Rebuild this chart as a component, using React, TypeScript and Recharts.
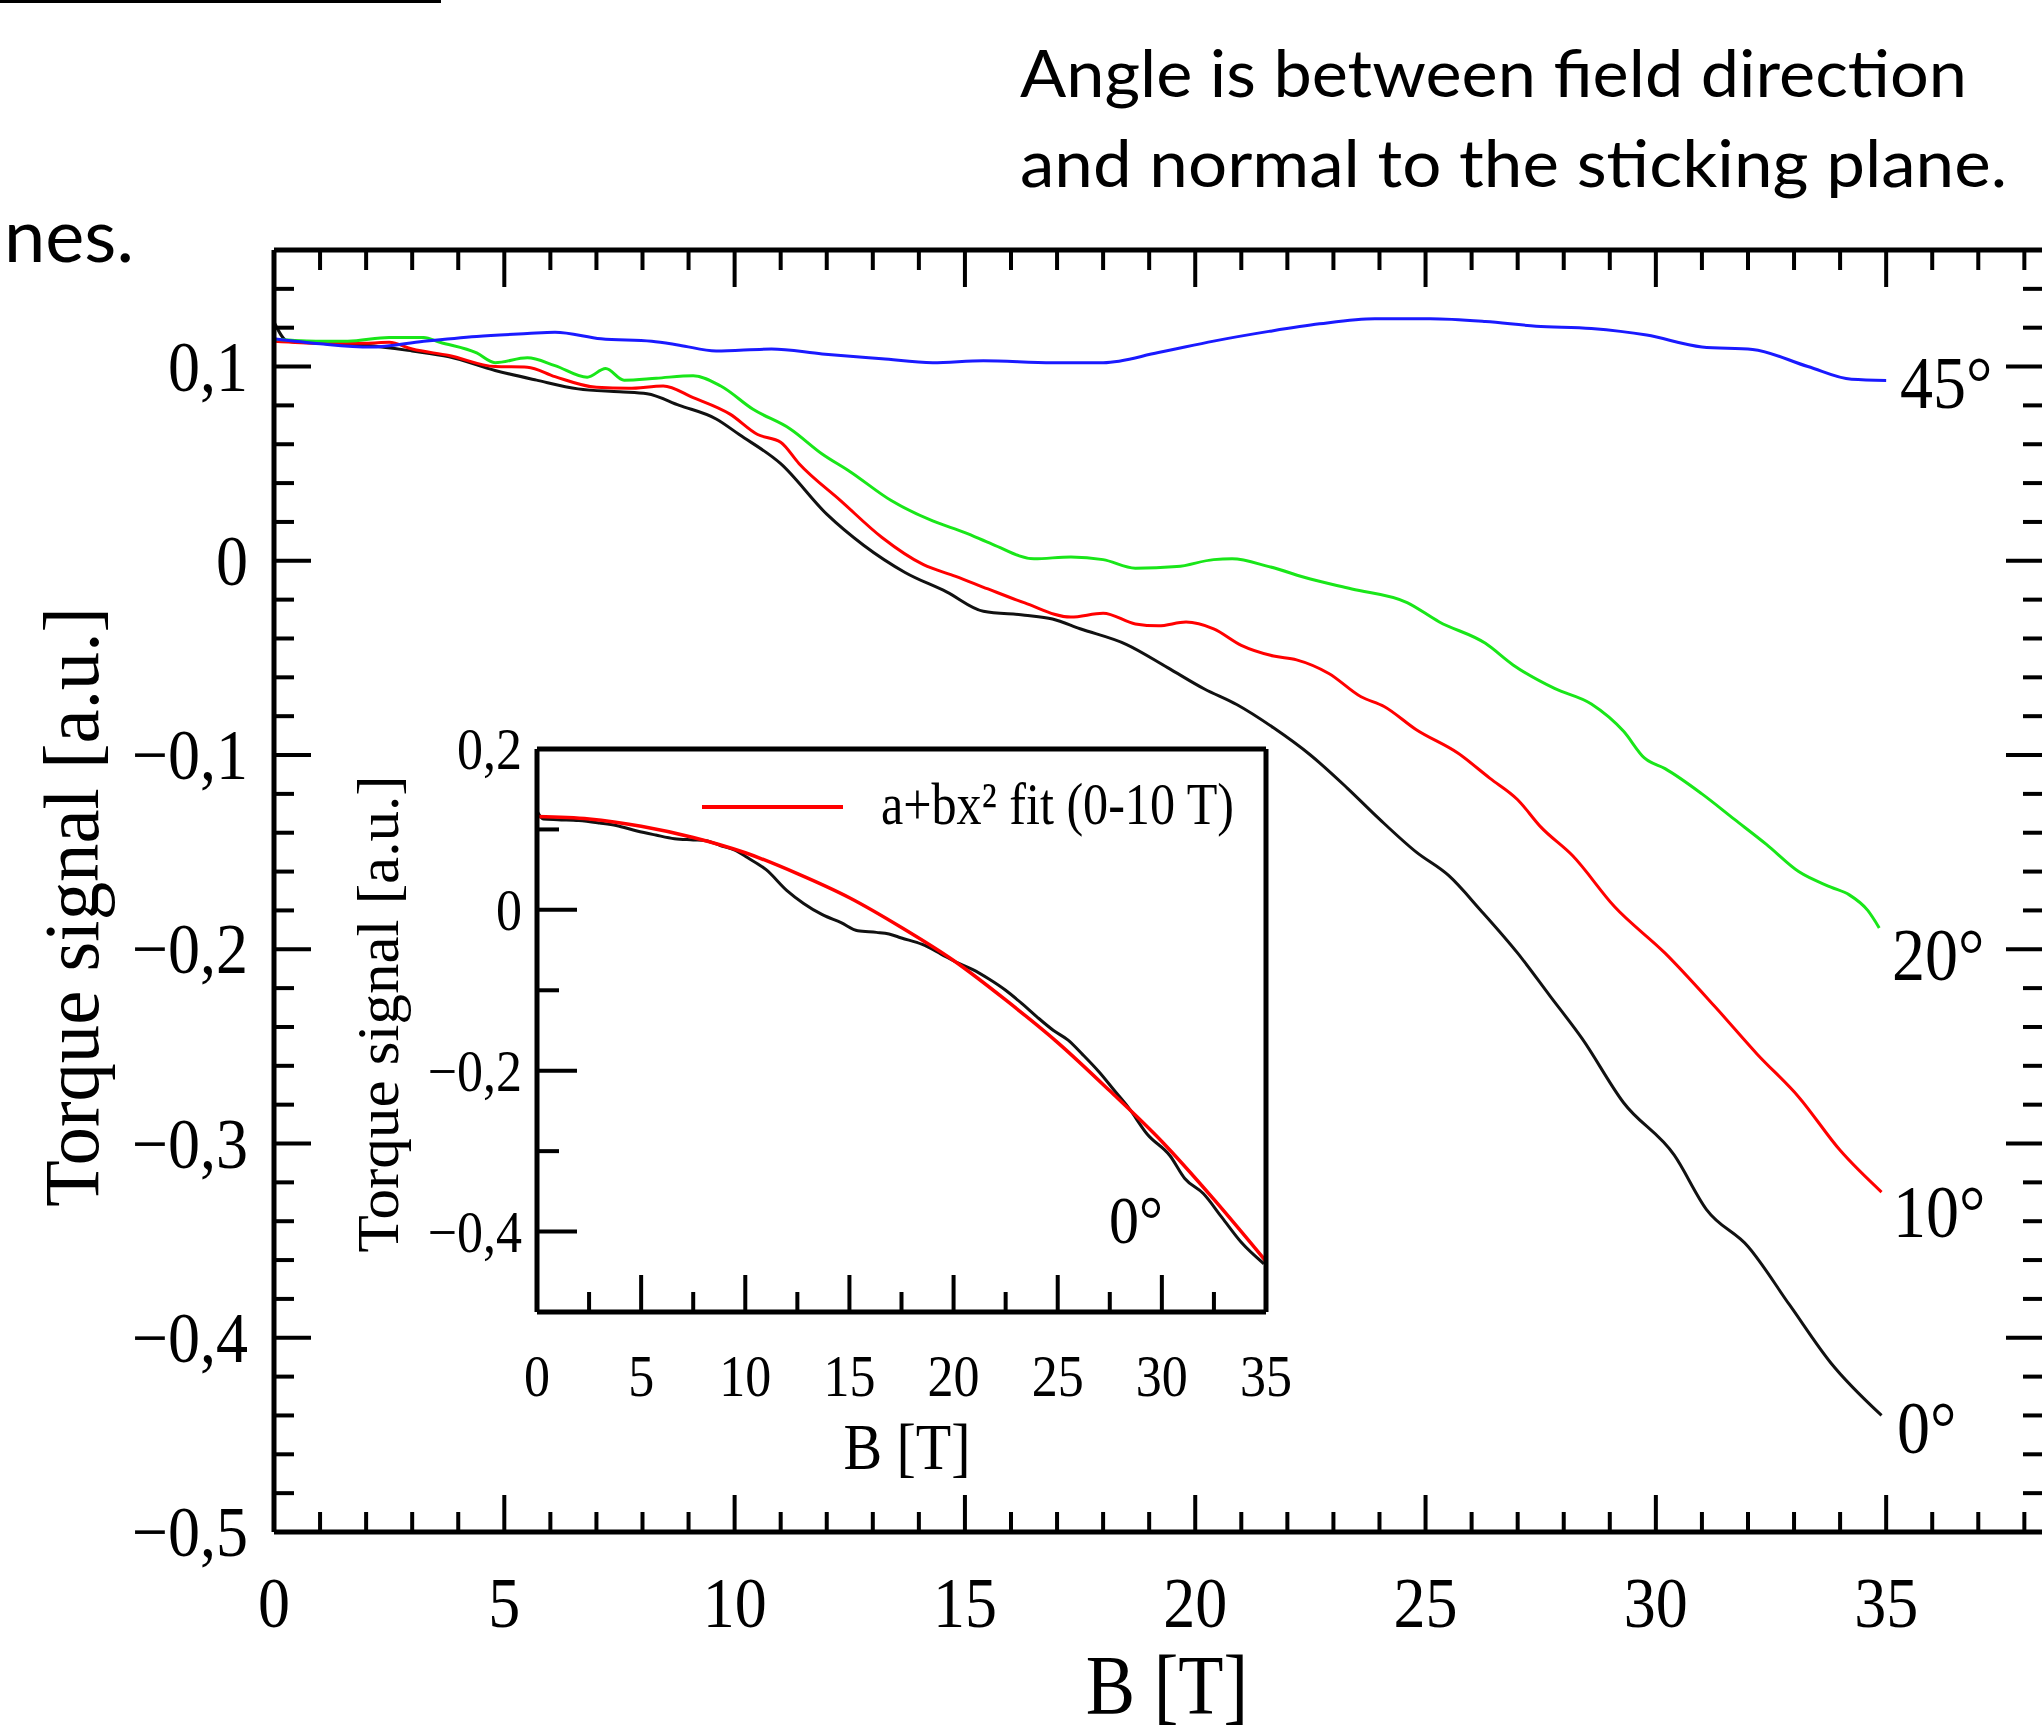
import React from 'react';
import { LineChart, Line, XAxis, YAxis } from 'recharts';

const SERIF = '"Liberation Serif", "Times New Roman", Times, serif';
const SANS = 'Lato, "Open Sans", sans-serif';
const STRETCH = 'scale(1,1.13)';

// B [T] and torque signal [a.u.], one pair of arrays per angle
const b0 = [0, 0.3, 1, 2, 3, 3.8, 4.8, 5.7, 6.6, 7.5, 8.1, 8.8, 9.6, 10.1, 11.0, 12.0, 12.8, 13.7, 14.6, 15.4, 16.3, 16.9, 17.5, 18.5, 19.4, 20.2, 20.9, 21.7, 22.5, 23.3, 24.0, 24.8, 25.5, 26.2, 27.0, 27.7, 28.4, 29.3, 30.4, 31.1, 32.0, 32.9, 33.8, 34.9];
const t0 = [0.123, 0.113, 0.112, 0.111, 0.108, 0.105, 0.098, 0.093, 0.0885, 0.087, 0.086, 0.08, 0.073, 0.065, 0.05, 0.024, 0.008, -0.006, -0.016, -0.026, -0.028, -0.03, -0.035, -0.043, -0.055, -0.066, -0.074, -0.086, -0.1, -0.117, -0.133, -0.15, -0.162, -0.18, -0.202, -0.224, -0.246, -0.279, -0.306, -0.334, -0.353, -0.383, -0.413, -0.44];

const b10 = [0, 1, 2, 2.5, 3.0, 3.8, 4.8, 5.5, 6.1, 7.0, 7.7, 8.45, 9.1, 9.9, 10.5, 11.0, 11.4, 12.3, 13.2, 14.1, 14.8, 15.5, 16.3, 17.3, 18.0, 18.7, 19.2, 19.8, 20.4, 21.0, 21.7, 22.2, 22.9, 23.6, 24.1, 24.8, 25.7, 26.4, 27.0, 27.5, 28.2, 29.1, 30.2, 31.3, 32.2, 33.1, 34.0, 34.9];
const t10 = [0.113, 0.112, 0.112, 0.1125, 0.109, 0.1057, 0.1, 0.0997, 0.0948, 0.0893, 0.0888, 0.09, 0.084, 0.0755, 0.065, 0.061, 0.05, 0.031, 0.012, -0.002, -0.008, -0.0145, -0.0217, -0.029, -0.027, -0.0325, -0.0335, -0.0315, -0.035, -0.0435, -0.049, -0.051, -0.058, -0.07, -0.075, -0.087, -0.099, -0.112, -0.123, -0.137, -0.152, -0.178, -0.202, -0.23, -0.254, -0.276, -0.3035, -0.325];

const b20 = [0, 1, 1.6, 2.5, 3.25, 3.6, 4.4, 4.8, 5.5, 6.1, 6.8, 7.2, 7.6, 8.3, 9.1, 9.7, 10.4, 11.2, 11.9, 12.5, 13.4, 14.3, 15.0, 15.6, 16.5, 17.3, 18.0, 18.7, 19.6, 20.4, 20.8, 21.6, 22.5, 23.4, 24.6, 25.3, 26.3, 26.9, 27.8, 28.6, 29.3, 29.75, 30.2, 31.0, 31.7, 32.4, 33.1, 33.8, 34.2, 34.6, 34.85];
const t20 = [0.114, 0.113, 0.113, 0.115, 0.115, 0.1125, 0.107, 0.102, 0.1045, 0.1005, 0.0945, 0.099, 0.093, 0.094, 0.0953, 0.09, 0.078, 0.068, 0.055, 0.046, 0.031, 0.0205, 0.0145, 0.0085, 0.001, 0.002, 0.0006, -0.0038, -0.003, 0.0006, 0.001, -0.003, -0.0094, -0.0145, -0.0215, -0.0315, -0.0425, -0.0536, -0.0657, -0.0737, -0.0878, -0.1015, -0.107, -0.12, -0.133, -0.146, -0.16, -0.168, -0.172, -0.18, -0.189];

const b45 = [0, 1, 2.1, 3.25, 4.4, 5.5, 6.1, 7.1, 8.2, 8.8, 9.6, 10.8, 11.9, 13.2, 14.3, 15.4, 16.9, 18.0, 19.2, 20.4, 21.6, 22.7, 23.9, 25.1, 26.3, 27.4, 28.6, 29.8, 31.0, 32.1, 33.3, 34.25, 35.0];
const t45 = [0.1143, 0.1117, 0.11, 0.113, 0.1155, 0.117, 0.1177, 0.1143, 0.113, 0.111, 0.108, 0.109, 0.1065, 0.104, 0.102, 0.103, 0.102, 0.102, 0.1072, 0.1131, 0.1181, 0.122, 0.1246, 0.1246, 0.1232, 0.1208, 0.1196, 0.1162, 0.1101, 0.1088, 0.1, 0.0934, 0.0928];

// inset: a+bx^2 fit curve
const bFit = [0, 2.5, 5, 7.5, 10, 12.5, 15, 17.5, 20, 22.5, 25, 27.5, 30, 32.5, 35];
const tFit = [0.116, 0.113, 0.104, 0.09, 0.071, 0.045, 0.015, -0.022, -0.063, -0.112, -0.165, -0.225, -0.288, -0.36, -0.437];

// tick labels
const xMajor = [0, 5, 10, 15, 20, 25, 30, 35];
const xLabels = ['0', '5', '10', '15', '20', '25', '30', '35'];
const yMajor = [-0.5, -0.4, -0.3, -0.2, -0.1, 0, 0.1];
const yLabels = ['\u22120,5', '\u22120,4', '\u22120,3', '\u22120,2', '\u22120,1', '0', '0,1'];
const insetYMajor = [0.2, 0, -0.2, -0.4];
const insetYLabels = ['0,2', '0', '\u22120,2', '\u22120,4'];

const pts = (b: number[], t: number[]) => b.map((x, i) => ({ b: x, t: t[i] }));
const steps = (from: number, to: number, step: number) => {
  const out: number[] = [];
  for (let v = from; v <= to + 1e-9; v += step) out.push(Math.round(v * 1000) / 1000);
  return out;
};
const labelFor = (v: number, majors: number[], labels: string[]) => {
  const i = majors.findIndex((m) => Math.abs(m - v) < 1e-6);
  return i >= 0 ? labels[i] : null;
};
const isMultiple = (v: number, step: number) => Math.abs(v / step - Math.round(v / step)) < 1e-6;

// main chart box (axes are 1px thick boxes, so margins are 1px short)
// the right frame line sits just past the page edge, as in the cropped original
const W = 2060;
const H = 1733;
const M = { top: 249, left: 273, right: 13, bottom: 200 };
const LEFT = M.left + 1;
const RIGHT = W - M.right - 1;
const TOP = M.top + 1;
const BOTTOM = H - M.bottom - 1;
const X_MAX = 38.47;

const xTicks = steps(0, 38, 1);
const yTicks = steps(-0.5, 0.14, 0.02);

const coord = (p: any, fallback: number) =>
  p.payload && typeof p.payload.coordinate === 'number' ? p.payload.coordinate : fallback;

const MainBottomTick = (p: any) => {
  const x = coord(p, p.x);
  const v = p.payload.value;
  const major = isMultiple(v, 5);
  const lab = labelFor(v, xMajor, xLabels);
  return (
    <g>
      <line x1={x} x2={x} y1={BOTTOM} y2={BOTTOM - (major ? 37 : 20)} stroke="#000" strokeWidth={4} />
      {lab !== null && (
        <text transform={`translate(${x},${BOTTOM + 95}) ${STRETCH}`} textAnchor="middle" fontFamily={SERIF} fontSize={64} fill="#000">
          {lab}
        </text>
      )}
    </g>
  );
};

const MainTopTick = (p: any) => {
  const x = coord(p, p.x);
  const major = isMultiple(p.payload.value, 5);
  return <line x1={x} x2={x} y1={TOP} y2={TOP + (major ? 37 : 20)} stroke="#000" strokeWidth={4} />;
};

const MainLeftTick = (p: any) => {
  const y = coord(p, p.y);
  const v = p.payload.value;
  const major = isMultiple(v, 0.1);
  const lab = labelFor(v, yMajor, yLabels);
  return (
    <g>
      <line x1={LEFT} x2={LEFT + (major ? 37 : 20)} y1={y} y2={y} stroke="#000" strokeWidth={4} />
      {lab !== null && (
        <text transform={`translate(${LEFT - 26},${y + 24}) ${STRETCH}`} textAnchor="end" fontFamily={SERIF} fontSize={64} fill="#000">
          {lab}
        </text>
      )}
    </g>
  );
};

const MainRightTick = (p: any) => {
  const y = coord(p, p.y);
  const major = isMultiple(p.payload.value, 0.1);
  return <line x1={RIGHT} x2={RIGHT - (major ? 40 : 23)} y1={y} y2={y} stroke="#000" strokeWidth={4} />;
};

// inset chart box
const IX = 340;
const IY = 690;
const IW = 960;
const IH = 820;
const IM = { top: 58, left: 196, right: 33, bottom: 197 };
const ILEFT = IM.left + 1;
const IBOTTOM = IH - IM.bottom - 1;

const insetXTicks = steps(0, 35, 2.5);
const insetYTicks = steps(-0.5, 0.2, 0.1);

const InsetBottomTick = (p: any) => {
  const x = coord(p, p.x);
  const v = p.payload.value;
  const major = isMultiple(v, 5);
  const lab = labelFor(v, xMajor, xLabels);
  return (
    <g>
      <line x1={x} x2={x} y1={IBOTTOM} y2={IBOTTOM - (major ? 37 : 20)} stroke="#000" strokeWidth={4} />
      {lab !== null && (
        <text transform={`translate(${x},${IBOTTOM + 84}) ${STRETCH}`} textAnchor="middle" fontFamily={SERIF} fontSize={52} fill="#000">
          {lab}
        </text>
      )}
    </g>
  );
};

const InsetLeftTick = (p: any) => {
  const y = coord(p, p.y);
  const v = p.payload.value;
  const major = isMultiple(v, 0.2);
  const lab = labelFor(v, insetYMajor, insetYLabels);
  return (
    <g>
      <line x1={ILEFT} x2={ILEFT + (major ? 40 : 22)} y1={y} y2={y} stroke="#000" strokeWidth={4} />
      {lab !== null && (
        <text transform={`translate(${ILEFT - 15},${y + 20}) ${STRETCH}`} textAnchor="end" fontFamily={SERIF} fontSize={52} fill="#000">
          {lab}
        </text>
      )}
    </g>
  );
};

const frame = { stroke: '#000', strokeWidth: 5 };
const NoTick = () => <g />;

export default function App() {
  return (
    <div style={{ position: 'absolute', left: 0, top: 0, width: 2042, height: 1733, overflow: 'hidden', background: '#fff' }}>
      <div style={{ position: 'absolute', left: 0, top: 0 }}>
        <LineChart width={W} height={H} margin={M}>
          <XAxis type="number" dataKey="b" domain={[0, X_MAX]} ticks={xTicks} interval={0} height={1} tickSize={0} tickLine={false} axisLine={frame} tick={MainBottomTick} allowDataOverflow />
          <XAxis xAxisId="top" orientation="top" type="number" dataKey="b" domain={[0, X_MAX]} ticks={xTicks} interval={0} height={1} tickSize={0} tickLine={false} axisLine={frame} tick={MainTopTick} allowDataOverflow />
          <YAxis type="number" dataKey="t" domain={[-0.5, 0.16]} ticks={yTicks} interval={0} width={1} tickSize={0} tickLine={false} axisLine={frame} tick={MainLeftTick} allowDataOverflow />
          <YAxis yAxisId="right" orientation="right" type="number" dataKey="t" domain={[-0.5, 0.16]} ticks={yTicks} interval={0} width={1} tickSize={0} tickLine={false} axisLine={frame} tick={MainRightTick} allowDataOverflow />
          <Line data={pts(b0, t0)} dataKey="t" type="monotone" stroke="#111" strokeWidth={3} dot={false} isAnimationActive={false} />
          <Line data={pts(b10, t10)} dataKey="t" type="monotone" stroke="#ff0000" strokeWidth={3} dot={false} isAnimationActive={false} />
          <Line data={pts(b20, t20)} dataKey="t" type="monotone" stroke="#19e619" strokeWidth={3} dot={false} isAnimationActive={false} />
          <Line data={pts(b45, t45)} dataKey="t" type="monotone" stroke="#1a1aff" strokeWidth={3} dot={false} isAnimationActive={false} />
        </LineChart>
      </div>

      <div style={{ position: 'absolute', left: IX, top: IY }}>
        <LineChart width={IW} height={IH} margin={IM}>
          <XAxis type="number" dataKey="b" domain={[0, 35]} ticks={insetXTicks} interval={0} height={1} tickSize={0} tickLine={false} axisLine={frame} tick={InsetBottomTick} allowDataOverflow />
          <XAxis xAxisId="top" orientation="top" type="number" dataKey="b" domain={[0, 35]} ticks={[0]} height={1} tickSize={0} tickLine={false} axisLine={frame} tick={NoTick} allowDataOverflow />
          <YAxis type="number" dataKey="t" domain={[-0.5, 0.2]} ticks={insetYTicks} interval={0} width={1} tickSize={0} tickLine={false} axisLine={frame} tick={InsetLeftTick} allowDataOverflow />
          <YAxis yAxisId="right" orientation="right" type="number" dataKey="t" domain={[-0.5, 0.2]} ticks={[0]} width={1} tickSize={0} tickLine={false} axisLine={frame} tick={NoTick} allowDataOverflow />
          <Line data={pts(b0, t0)} dataKey="t" type="monotone" stroke="#111" strokeWidth={3} dot={false} isAnimationActive={false} />
          <Line data={pts(bFit, tFit)} dataKey="t" type="monotone" stroke="#ff0000" strokeWidth={3.5} dot={false} isAnimationActive={false} />
        </LineChart>
      </div>

      <svg width={2042} height={1733} style={{ position: 'absolute', left: 0, top: 0, pointerEvents: 'none' }}>
        <line x1={0} x2={441} y1={1.5} y2={1.5} stroke="#000" strokeWidth={3} />
        <text x={4} y={262} fontFamily={SANS} fontSize={74} fill="#000">nes.</text>
        <text x={1020} y={97} fontFamily={SANS} fontSize={65} fill="#000" textLength={947} lengthAdjust="spacingAndGlyphs">
          Angle is between field direction
        </text>
        <text x={1020} y={187} fontFamily={SANS} fontSize={65} fill="#000" textLength={987} lengthAdjust="spacingAndGlyphs">
          and normal to the sticking plane.
        </text>

        <text transform={`translate(1167,1714) ${STRETCH}`} textAnchor="middle" fontFamily={SERIF} fontSize={74} fill="#000">B [T]</text>
        <text transform="translate(98,907) rotate(-90)" textAnchor="middle" fontFamily={SERIF} fontSize={78} fill="#000" textLength={600} lengthAdjust="spacingAndGlyphs">
          Torque signal [a.u.]
        </text>

        <text transform={`translate(1900,408) ${STRETCH}`} fontFamily={SERIF} fontSize={66} fill="#000">45°</text>
        <text transform={`translate(1892,980) ${STRETCH}`} fontFamily={SERIF} fontSize={66} fill="#000">20°</text>
        <text transform={`translate(1893,1237) ${STRETCH}`} fontFamily={SERIF} fontSize={66} fill="#000">10°</text>
        <text transform={`translate(1897,1453) ${STRETCH}`} fontFamily={SERIF} fontSize={66} fill="#000">0°</text>

        <line x1={702} x2={843} y1={807} y2={807} stroke="#ff0000" strokeWidth={4} />
        <text transform={`translate(881,824) ${STRETCH}`} fontFamily={SERIF} fontSize={52} fill="#000" textLength={353} lengthAdjust="spacingAndGlyphs">
          a+bx² fit (0-10 T)
        </text>
        <text transform="translate(398,1014) rotate(-90)" textAnchor="middle" fontFamily={SERIF} fontSize={60} fill="#000" textLength={477} lengthAdjust="spacingAndGlyphs">
          Torque signal [a.u.]
        </text>
        <text transform={`translate(907,1469) ${STRETCH}`} textAnchor="middle" fontFamily={SERIF} fontSize={58} fill="#000">B [T]</text>
        <text transform={`translate(1109,1243) ${STRETCH}`} fontFamily={SERIF} fontSize={60} fill="#000">0°</text>
      </svg>
    </div>
  );
}
